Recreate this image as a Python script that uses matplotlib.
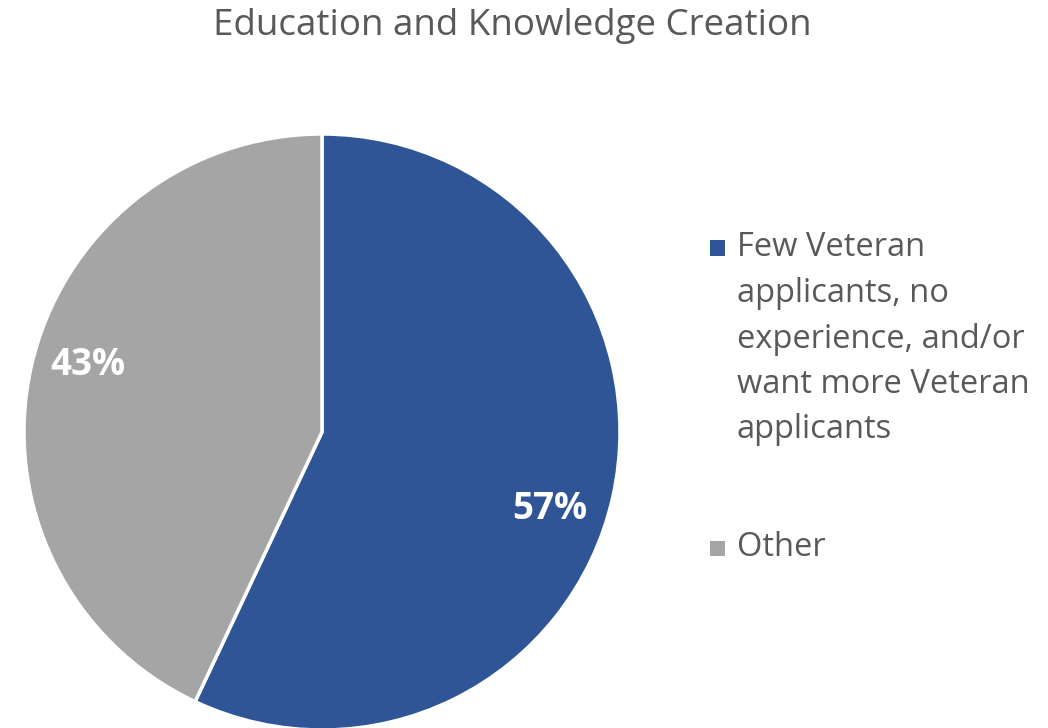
import matplotlib
matplotlib.use("Agg")
import matplotlib.pyplot as plt
from matplotlib.patches import Rectangle

title = "Education and Knowledge Creation"
categories = ["Few Veteran\napplicants, no\nexperience, and/or\nwant more Veteran\napplicants", "Other"]
shares = [57, 43]
colors = ["#2F5597", "#A5A5A5"]
text_color = "#595959"

plt.rcParams["font.family"] = ["Open Sans", "DejaVu Sans"]

fig = plt.figure(figsize=(10.48, 7.28), dpi=100)
fig.patch.set_facecolor("white")

# Pie axes: centre at (322, 432) px, radius 298 px
W, H = 1048, 728
cx, cy, r = 322, 432, 298
ax = fig.add_axes([(cx - r) / W, (H - cy - r) / H, 2 * r / W, 2 * r / H])
wedges, _, autotexts = ax.pie(
    shares, colors=colors, startangle=90, counterclock=False,
    autopct=lambda p: f"{p:.0f}%", pctdistance=0.81,
    wedgeprops=dict(edgecolor="white", linewidth=2.5),
    textprops=dict(color="white", fontsize=26.5, fontweight="bold"),
)
# Percentage label placement inside each wedge
label_pos = [(0.765, -0.258), (-0.785, 0.225)]
for t, (x, y) in zip(autotexts, label_pos):
    t.set_position((x, y))
ax.set_xlim(-1, 1)
ax.set_ylim(-1, 1)
ax.set_aspect("equal")
ax.axis("off")

fig.text(512 / W, 1 - 26 / H, title, ha="center", va="center",
         fontsize=26.5, color=text_color)

# Legend entries, square aligned to the first text line
line_h = 45.5
entry_tops = [248, 548]
for label, color, y0 in zip(categories, colors, entry_tops):
    sq = 15
    fig.patches.append(Rectangle(((717 - sq / 2) / W, 1 - (y0 + sq / 2) / H),
                                 sq / W, sq / H, transform=fig.transFigure,
                                 facecolor=color, edgecolor="none"))
    for i, line in enumerate(label.split("\n")):
        fig.text(737 / W, 1 - (y0 + i * line_h) / H, line, ha="left",
                 va="center", fontsize=23.5, color=text_color)

fig.savefig("out.png", dpi=100)
